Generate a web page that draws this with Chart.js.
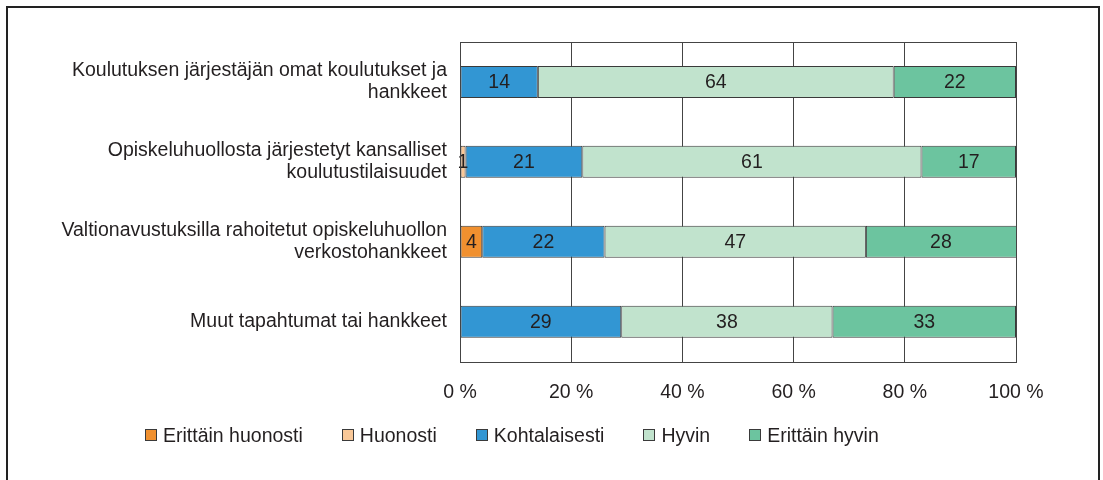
<!DOCTYPE html>
<html>
<head>
<meta charset="utf-8">
<script src="https://cdn.jsdelivr.net/npm/chart.js@4/dist/chart.umd.min.js"></script>
<style>
    html, body { margin: 0; padding: 0; background: #fff; }
    .wrap { position: relative; width: 1103px; height: 480px; overflow: hidden; font-family: "Liberation Sans", Arial, sans-serif; }
    .frame { position: absolute; left: 6px; top: 6px; width: 1094px; height: 490px; border: 2px solid #222; box-sizing: border-box; pointer-events: none; }
    canvas { position: absolute; left: 0; top: 0; }
    .legend { position: absolute; left: 145px; top: 423px; display: flex; align-items: center; color: #231f20; font-size: 19.5px; line-height: 24px; }
    .legend .item { display: flex; align-items: center; margin-right: 39px; white-space: nowrap; }
    .legend .box { width: 12px; height: 12px; box-sizing: border-box; border: 1px solid #3a3a3a; margin-right: 6px; }
</style>
</head>
<body>
<div class="wrap">
    <canvas id="chart" width="1103" height="480"></canvas>
    <div class="legend" id="legend"></div>
    <div class="frame"></div>
</div>
<script>
// Categories (top to bottom)
const categories = [
    ['Koulutuksen järjestäjän omat koulutukset ja', 'hankkeet'],
    ['Opiskeluhuollosta järjestetyt kansalliset', 'koulutustilaisuudet'],
    ['Valtionavustuksilla rahoitetut opiskeluhuollon', 'verkostohankkeet'],
    ['Muut tapahtumat tai hankkeet']
];

// Series values (%)
const erittainHuonosti = [0, 0, 4, 0];
const huonosti = [0, 1, 0, 0];
const kohtalaisesti = [14, 21, 22, 29];
const hyvin = [64, 61, 47, 38];
const erittainHyvin = [22, 17, 28, 33];

const xTicks = [0, 20, 40, 60, 80, 100];

const textColor = '#231f20';
const fontFamily = '"Liberation Sans", Arial, sans-serif';
const fontSize = 19.5;

// Value labels in the middle of each segment
const barLabels = {
    id: 'barLabels',
    afterDatasetsDraw(chart) {
        const ctx = chart.ctx;
        ctx.save();
        ctx.font = fontSize + 'px ' + fontFamily;
        ctx.fillStyle = textColor;
        ctx.textAlign = 'center';
        ctx.textBaseline = 'middle';
        chart.data.datasets.forEach((ds, i) => {
            chart.getDatasetMeta(i).data.forEach((bar, j) => {
                const v = ds.data[j];
                if (!v) return;
                const p = bar.getCenterPoint();
                const right = Math.min(bar.x, chart.chartArea.right);
                const x = (Math.max(bar.base, chart.chartArea.left) + right) / 2;
                ctx.fillText(String(v), x, p.y + 1);
            });
        });
        ctx.restore();
    }
};

// Box round the plot area
const plotBorder = {
    id: 'plotBorder',
    afterDatasetsDraw(chart) {
        const a = chart.chartArea;
        const ctx = chart.ctx;
        ctx.save();
        ctx.strokeStyle = '#444';
        ctx.lineWidth = 1;
        ctx.strokeRect(Math.round(a.left) + 0.5, Math.round(a.top) + 0.5, Math.round(a.right - a.left), Math.round(a.bottom - a.top));
        ctx.restore();
    }
};

const makeSet = (label, data, color) => ({
    label: label,
    data: data,
    backgroundColor: color,
    borderColor: '#3a3a3a',
    borderWidth: 1,
    borderSkipped: false,
    categoryPercentage: 1,
    barPercentage: 0.4
});

const chart = new Chart(document.getElementById('chart'), {
    type: 'bar',
    data: {
        labels: categories,
        datasets: [
            makeSet('Erittäin huonosti', erittainHuonosti, '#f0902f'),
            makeSet('Huonosti', huonosti, '#f9c898'),
            makeSet('Kohtalaisesti', kohtalaisesti, '#3296d3'),
            makeSet('Hyvin', hyvin, '#c1e3cd'),
            makeSet('Erittäin hyvin', erittainHyvin, '#6cc49f')
        ]
    },
    options: {
        indexAxis: 'y',
        responsive: false,
        animation: false,
        layout: { padding: { left: 0, right: 87, top: 42, bottom: 57 } },
        plugins: {
            legend: { display: false },
            tooltip: { enabled: false }
        },
        scales: {
            x: {
                stacked: true,
                min: 0,
                max: 100,
                afterBuildTicks: (scale) => { scale.ticks = xTicks.map(v => ({ value: v })); },
                ticks: {
                    color: textColor,
                    font: { family: fontFamily, size: fontSize },
                    padding: 19,
                    callback: (v) => v + ' %'
                },
                grid: { color: '#444', drawTicks: false },
                border: { display: false }
            },
            y: {
                stacked: true,
                afterFit: (scale) => { scale.width = 460; },
                ticks: {
                    color: textColor,
                    font: { family: fontFamily, size: fontSize, lineHeight: 1.12 },
                    padding: 13
                },
                grid: { display: false, drawTicks: false },
                border: { display: false }
            }
        }
    },
    plugins: [barLabels, plotBorder]
});

// Legend as HTML, built from the datasets
const legendEl = document.getElementById('legend');
chart.data.datasets.forEach(ds => {
    const item = document.createElement('div');
    item.className = 'item';
    const box = document.createElement('span');
    box.className = 'box';
    box.style.background = ds.backgroundColor;
    const txt = document.createElement('span');
    txt.textContent = ds.label;
    item.appendChild(box);
    item.appendChild(txt);
    legendEl.appendChild(item);
});
</script>
</body>
</html>
